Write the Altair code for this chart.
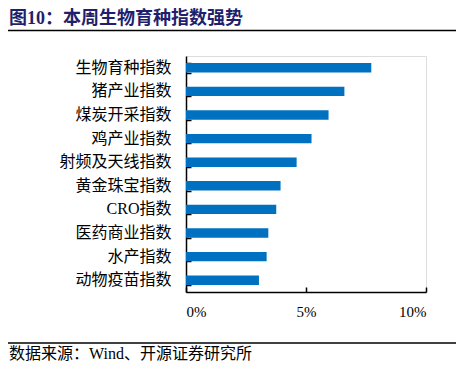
import altair as alt
import pandas as pd

categories = ["生物育种指数", "猪产业指数", "煤炭开采指数", "鸡产业指数", "射频及天线指数",
              "黄金珠宝指数", "CRO指数", "医药商业指数", "水产指数", "动物疫苗指数"]
values = [0.0772, 0.0660, 0.0594, 0.0523, 0.0461, 0.0394, 0.0376, 0.0343, 0.0336, 0.0304]
x_ticks = [0, 0.05, 0.10]

title_text = "图10：本周生物育种指数强势"
source_text = "数据来源：Wind、开源证券研究所"

FONT = "'Liberation Serif', 'Noto Sans CJK SC', serif"

df = pd.DataFrame({"cat": categories, "val": values})

W, H = 240, 236

yscale = alt.Scale(domain=categories, paddingInner=0.6, paddingOuter=0.3)
xscale = alt.Scale(domain=[0, 0.1], nice=False, zero=True)

bars = alt.Chart(df).mark_bar(color="#0070C0").encode(
    x=alt.X("val:Q", scale=xscale, title=None,
            axis=alt.Axis(values=x_ticks, format=".0%", orient="bottom",
                          domain=True, domainColor="black", domainWidth=1.5,
                          ticks=False, tickSize=0, grid=False,
                          labelPadding=12, labelFontSize=15, labelFont=FONT,
                          labelColor="black")),
    y=alt.Y("cat:N", scale=yscale, sort=categories, title=None,
            axis=alt.Axis(orient="left", domain=True, domainColor="black", domainWidth=1.5,
                          ticks=False, tickSize=0, grid=False,
                          labelPadding=15, labelFontSize=16, labelFont=FONT,
                          labelColor="black", labelLimit=200)),
)

tick_layer = alt.Chart(df).mark_bar(opacity=0).encode(
    x=alt.X("val:Q", scale=xscale, title=None,
            axis=alt.Axis(values=x_ticks, orient="bottom", offset=-5, domain=False,
                          labels=False, ticks=True, tickSize=5, tickWidth=1.5,
                          tickColor="black", grid=False)),
    y=alt.Y("cat:N", scale=yscale, sort=categories, title=None,
            axis=alt.Axis(orient="left", offset=-5, domain=False, labels=False,
                          ticks=True, tickSize=5, tickWidth=1.5, tickColor="black",
                          tickBand="extent", grid=False)),
)

title_df = pd.DataFrame({"t": [title_text]})
title_mark = alt.Chart(title_df).mark_text(
    align="left", baseline="middle", fontSize=18, fontWeight="bold",
    font=FONT, color="#1f1f6e"
).encode(text="t:N", x=alt.value(-177), y=alt.value(-37))

src_df = pd.DataFrame({"t": [source_text]})
src_mark = alt.Chart(src_df).mark_text(
    align="left", baseline="middle", fontSize=16, font=FONT, color="black"
).encode(text="t:N", x=alt.value(-177), y=alt.value(298))

top_line = alt.Chart(title_df).mark_rule(color="black", strokeWidth=1.5).encode(
    x=alt.value(-178), x2=alt.value(276), y=alt.value(-25.5))
bot_line = alt.Chart(title_df).mark_rule(color="black", strokeWidth=1.5).encode(
    x=alt.value(-178), x2=alt.value(276), y=alt.value(287))

chart = alt.layer(bars, tick_layer, title_mark, src_mark, top_line, bot_line).resolve_axis(
    x="independent", y="independent"
).properties(
    width=W, height=H,
    autosize=alt.AutoSizeParams(type="none"),
    padding={"left": 178, "top": 48, "right": 30, "bottom": 72},
).configure_view(stroke=None).configure(background="white")

chart.save("out.html", embed_options={"renderer": "svg", "actions": False})
